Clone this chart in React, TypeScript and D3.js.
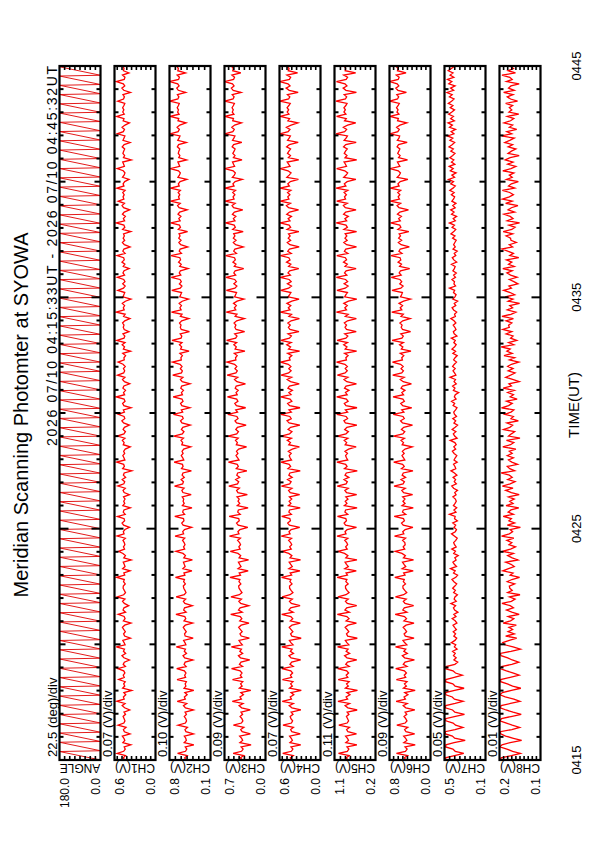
import * as d3 from 'd3'
import { useEffect, useRef } from 'react'

// scan 2026 07/10 04:15:33UT - 04:45:32UT, time in seconds from start
const titleText = 'Meridian Scanning Photomter at SYOWA'
const rangeText = '2026 07/10 04:15:33UT - 2026 07/10 04:45:32UT'
const startSeconds = 4 * 3600 + 15 * 60 + 33
const endSeconds = 1800

const panelNames = ['ANGLE', 'CH1(V)', 'CH2(V)', 'CH3(V)', 'CH4(V)', 'CH5(V)', 'CH6(V)', 'CH7(V)', 'CH8(V)']
const maxValues = [180, 0.6, 0.8, 0.7, 0.6, 1.1, 0.8, 0.5, 0.2]
const minValues = [0, 0, 0.1, 0, 0, 0.2, 0, 0.1, 0.1]
const maxLabels = ['180.0', '0.6', '0.8', '0.7', '0.6', '1.1', '0.8', '0.5', '0.2']
const minLabels = ['0.0', '0.0', '0.1', '0.0', '0.0', '0.2', '0.0', '0.1', '0.1']
const divValues = [22.5, 0.07, 0.1, 0.09, 0.07, 0.11, 0.09, 0.05, 0.01]
const divLabels = ['22.5 (deg)/div', '0.07 (V)/div', '0.10 (V)/div', '0.09 (V)/div', '0.07 (V)/div', '0.11 (V)/div', '0.09 (V)/div', '0.05 (V)/div', '0.01 (V)/div']
const timeLabelTicks = [0, 600, 1200, 1800]

// scanner angle turning points (s from start, deg): slow sweep up, fast return
const angleTimes = [0, 22, 24, 46, 48, 70, 72, 94, 96, 118, 120, 142, 144, 166, 168, 190, 192, 214, 216, 238, 240, 262, 264, 286, 288, 310, 312, 334, 336, 358, 360, 382, 384, 406, 408, 430, 432, 454, 456, 478, 480, 502, 504, 526, 528, 550, 552, 574, 576, 598, 600, 622, 624, 646, 648, 670, 672, 694, 696, 718, 720, 742, 744, 766, 768, 790, 792, 814, 816, 838, 840, 862, 864, 886, 888, 910, 912, 934, 936, 958, 960, 982, 984, 1006, 1008, 1030, 1032, 1054, 1056, 1078, 1080, 1102, 1104, 1126, 1128, 1150, 1152, 1174, 1176, 1198, 1200, 1222, 1224, 1246, 1248, 1270, 1272, 1294, 1296, 1318, 1320, 1342, 1344, 1366, 1368, 1390, 1392, 1414, 1416, 1438, 1440, 1462, 1464, 1486, 1488, 1510, 1512, 1534, 1536, 1558, 1560, 1582, 1584, 1606, 1608, 1630, 1632, 1654, 1656, 1678, 1680, 1702, 1704, 1726, 1728, 1750, 1752, 1774, 1776, 1798]
const angleValues = [0, 180, 0, 180, 0, 180, 0, 180, 0, 180, 0, 180, 0, 180, 0, 180, 0, 180, 0, 180, 0, 180, 0, 180, 0, 180, 0, 180, 0, 180, 0, 180, 0, 180, 0, 180, 0, 180, 0, 180, 0, 180, 0, 180, 0, 180, 0, 180, 0, 180, 0, 180, 0, 180, 0, 180, 0, 180, 0, 180, 0, 180, 0, 180, 0, 180, 0, 180, 0, 180, 0, 180, 0, 180, 0, 180, 0, 180, 0, 180, 0, 180, 0, 180, 0, 180, 0, 180, 0, 180, 0, 180, 0, 180, 0, 180, 0, 180, 0, 180, 0, 180, 0, 180, 0, 180, 0, 180, 0, 180, 0, 180, 0, 180, 0, 180, 0, 180, 0, 180, 0, 180, 0, 180, 0, 180, 0, 180, 0, 180, 0, 180, 0, 180, 0, 180, 0, 180, 0, 180, 0, 180, 0, 180, 0, 180, 0, 180, 0, 180]

// channel readings in mV, evenly spaced over the scan
const ch1 = [
	452, 471, 438, 562, 466, 443, 458, 361, 477, 449, 462, 485, 372, 455, 470, 431, 548, 463, 447, 459,
	474, 439, 461, 377, 452, 488, 446, 568, 458, 470, 435, 463, 349, 481, 450, 466, 443, 539, 457, 472,
	448, 465, 553, 440, 473, 456, 382, 462, 491, 437, 469, 454, 574, 445, 460, 478, 366, 452, 467, 441,
	463, 484, 451, 358, 470, 445, 459, 546, 438, 475, 461, 392, 456, 482, 447, 563, 466, 439, 457, 474,
	471, 443, 468, 457, 571, 450, 463, 371, 481, 446, 458, 472, 355, 464, 440, 476, 542, 453, 469, 448,
	457, 476, 441, 564, 460, 471, 447, 380, 466, 489, 452, 459, 557, 443, 472, 461, 368, 478, 450, 465,
	446, 468, 381, 459, 475, 442, 552, 463, 450, 487, 437, 470, 458, 346, 481, 455, 466, 569, 448, 462,
	478, 451, 466, 443, 370, 472, 459, 485, 447, 561, 462, 440, 474, 455, 383, 467, 492, 449, 460, 545,
	455, 470, 357, 463, 481, 446, 460, 573, 452, 468, 439, 477, 462, 376, 454, 483, 448, 556, 466, 451,
	469, 443, 475, 548, 457, 462, 438, 479, 365, 470, 453, 488, 446, 567, 461, 449, 476, 388, 458, 472,
	461, 482, 450, 374, 467, 444, 573, 458, 471, 452, 486, 441, 359, 476, 463, 450, 551, 469, 444, 480,
	447, 465, 559, 453, 476, 460, 385, 472, 448, 491, 457, 466, 564, 445, 478, 462, 372, 456, 484, 451,
	473, 456, 468, 362, 481, 449, 463, 577, 452, 470, 441, 484, 458, 378, 467, 490, 454, 546, 463, 475,
	458, 479, 445, 566, 462, 474, 451, 387, 483, 460, 447, 472, 561, 455, 466, 480, 354, 469, 452, 477,
	466, 451, 487, 459, 371, 476, 462, 448, 558, 471, 454, 489, 446, 381, 473, 461, 568, 457, 479, 463,
	481, 462, 449, 553, 468, 455, 476, 366, 464, 492, 450, 471, 575, 458, 447, 483, 389, 470, 461, 474,
]
const ch2 = [
	517, 541, 498, 662, 526, 505, 531, 384, 549, 512, 523, 547, 391, 519, 536, 493, 655, 528, 509, 521,
	548, 511, 534, 392, 527, 561, 506, 668, 530, 546, 499, 538, 385, 552, 520, 533, 512, 671, 525, 541,
	519, 546, 677, 515, 551, 532, 400, 541, 569, 510, 547, 528, 684, 520, 537, 559, 396, 532, 543, 514,
	540, 565, 531, 404, 552, 522, 539, 690, 515, 558, 543, 411, 537, 563, 524, 686, 549, 518, 536, 556,
	564, 529, 559, 545, 698, 537, 553, 417, 571, 533, 548, 562, 409, 556, 528, 569, 693, 541, 560, 535,
	551, 577, 540, 705, 559, 574, 544, 423, 567, 591, 553, 561, 710, 542, 575, 564, 416, 580, 549, 568,
	557, 582, 430, 571, 589, 551, 714, 576, 562, 601, 548, 585, 570, 426, 595, 568, 579, 721, 556, 574,
	599, 568, 586, 557, 439, 590, 575, 604, 561, 727, 581, 553, 597, 572, 445, 588, 612, 566, 579, 733,
	575, 598, 452, 590, 611, 569, 587, 738, 579, 596, 562, 607, 593, 449, 583, 614, 571, 745, 596, 580,
	615, 586, 620, 749, 598, 605, 580, 623, 466, 611, 592, 630, 587, 757, 603, 590, 618, 460, 599, 616,
	603, 629, 592, 471, 614, 586, 766, 601, 622, 596, 635, 583, 475, 624, 609, 593, 761, 617, 588, 631,
	598, 621, 770, 607, 633, 614, 482, 626, 600, 645, 611, 623, 774, 596, 634, 618, 489, 609, 640, 603,
	642, 620, 637, 491, 650, 613, 630, 779, 618, 641, 605, 655, 626, 498, 636, 662, 617, 782, 631, 646,
	625, 652, 614, 785, 634, 649, 619, 503, 656, 631, 615, 646, 788, 625, 640, 657, 508, 642, 623, 650,
	640, 625, 666, 644, 512, 659, 638, 621, 790, 653, 632, 670, 624, 518, 655, 642, 793, 636, 661, 647,
	668, 647, 633, 795, 657, 640, 665, 524, 650, 676, 636, 660, 796, 645, 631, 669, 527, 658, 649, 671,
]
const ch3 = [
	395, 428, 371, 552, 409, 382, 416, 246, 437, 390, 407, 441, 258, 398, 423, 369, 548, 411, 386, 403,
	434, 391, 418, 260, 407, 451, 383, 567, 412, 436, 377, 421, 251, 447, 399, 425, 388, 563, 404, 430,
	401, 433, 580, 392, 445, 418, 269, 427, 462, 390, 438, 411, 583, 396, 429, 452, 275, 414, 436, 398,
	427, 458, 415, 282, 440, 404, 431, 594, 397, 461, 433, 287, 424, 455, 410, 590, 446, 401, 428, 452,
	459, 421, 453, 437, 606, 427, 449, 296, 469, 418, 441, 462, 289, 451, 424, 470, 601, 433, 455, 426,
	443, 476, 429, 615, 452, 471, 437, 302, 466, 494, 448, 457, 620, 431, 474, 463, 297, 482, 440, 469,
	449, 486, 310, 471, 493, 446, 626, 478, 458, 509, 441, 490, 475, 318, 499, 464, 483, 633, 452, 476,
	503, 471, 495, 458, 323, 498, 480, 512, 466, 640, 491, 462, 507, 479, 331, 494, 521, 469, 488, 644,
	477, 508, 339, 497, 524, 471, 492, 650, 483, 503, 466, 517, 500, 342, 488, 529, 474, 655, 505, 481,
	521, 490, 528, 659, 505, 512, 484, 533, 351, 519, 498, 541, 493, 664, 510, 487, 526, 356, 502, 523,
	505, 537, 493, 361, 518, 487, 670, 507, 531, 498, 546, 485, 367, 528, 511, 494, 668, 523, 489, 540,
	497, 526, 675, 509, 541, 518, 372, 533, 504, 556, 515, 529, 679, 496, 543, 522, 380, 510, 549, 503,
	549, 522, 543, 381, 560, 515, 535, 683, 521, 548, 506, 565, 531, 388, 545, 571, 518, 689, 537, 554,
	523, 559, 512, 692, 537, 556, 519, 396, 566, 532, 515, 552, 695, 527, 546, 563, 401, 548, 521, 558,
	536, 519, 569, 545, 404, 563, 540, 522, 696, 558, 533, 575, 526, 410, 560, 547, 698, 539, 567, 550,
	571, 548, 531, 697, 554, 536, 568, 416, 551, 583, 537, 564, 699, 545, 529, 574, 421, 559, 550, 577,
]
const ch4 = [
	415, 441, 398, 553, 426, 404, 432, 289, 447, 411, 428, 452, 296, 419, 437, 396, 549, 425, 408, 433,
	444, 402, 429, 287, 418, 458, 397, 560, 425, 443, 391, 431, 281, 454, 412, 437, 403, 557, 421, 440,
	408, 435, 563, 399, 447, 422, 290, 431, 461, 395, 441, 416, 566, 402, 433, 455, 283, 419, 438, 404,
	430, 457, 418, 295, 441, 406, 434, 568, 400, 462, 436, 299, 427, 454, 412, 561, 446, 403, 431, 452,
	453, 417, 448, 433, 570, 422, 444, 301, 463, 413, 436, 458, 292, 447, 419, 465, 562, 428, 451, 421,
	437, 466, 424, 574, 445, 461, 430, 304, 455, 480, 440, 449, 568, 426, 463, 452, 297, 470, 433, 459,
	421, 455, 305, 443, 467, 418, 572, 451, 430, 482, 414, 463, 448, 296, 476, 437, 459, 579, 424, 446,
	458, 429, 471, 413, 309, 465, 440, 486, 425, 575, 453, 418, 474, 437, 302, 460, 490, 428, 449, 581,
	427, 461, 300, 452, 481, 419, 446, 583, 432, 463, 411, 477, 455, 311, 438, 487, 423, 577, 466, 430,
	464, 433, 472, 586, 445, 457, 420, 480, 306, 468, 438, 493, 429, 580, 455, 426, 476, 315, 447, 470,
	443, 478, 430, 309, 462, 424, 588, 447, 471, 435, 491, 419, 314, 474, 452, 433, 583, 466, 425, 484,
	429, 459, 590, 441, 476, 451, 318, 467, 434, 497, 446, 463, 585, 428, 479, 455, 312, 448, 486, 437,
	472, 444, 468, 316, 489, 437, 459, 592, 446, 473, 425, 494, 453, 321, 467, 498, 440, 587, 462, 479,
	448, 482, 433, 594, 455, 478, 441, 323, 493, 459, 431, 475, 590, 446, 467, 488, 318, 470, 440, 483,
	462, 438, 496, 456, 326, 482, 459, 441, 594, 474, 447, 499, 430, 331, 477, 452, 591, 461, 487, 466,
	489, 463, 443, 595, 467, 449, 484, 327, 458, 503, 446, 476, 596, 455, 437, 492, 335, 472, 460, 485,
]
const ch5 = [
	803, 842, 776, 1012, 819, 785, 827, 608, 851, 792, 816, 856, 617, 805, 834, 771, 1005, 823, 791, 812,
	838, 783, 822, 603, 806, 867, 770, 1024, 812, 846, 761, 829, 596, 861, 797, 835, 779, 1018, 808, 843,
	791, 832, 1030, 777, 853, 815, 611, 826, 878, 768, 844, 802, 1033, 784, 829, 862, 600, 811, 837, 786,
	823, 866, 805, 619, 845, 781, 828, 1038, 773, 871, 832, 612, 819, 859, 798, 1026, 848, 780, 825, 857,
	859, 800, 851, 828, 1041, 815, 846, 622, 874, 796, 837, 868, 607, 852, 806, 879, 1029, 821, 855, 812,
	832, 875, 808, 1044, 847, 869, 823, 617, 857, 889, 838, 851, 1035, 810, 872, 856, 604, 884, 827, 864,
	804, 851, 613, 836, 872, 798, 1040, 846, 818, 891, 785, 869, 841, 600, 882, 824, 855, 1047, 809, 838,
	857, 816, 870, 791, 625, 866, 833, 887, 806, 1046, 849, 795, 876, 828, 609, 861, 893, 812, 845, 1050,
	812, 861, 606, 848, 884, 801, 839, 1052, 821, 859, 782, 880, 847, 618, 829, 891, 805, 1037, 867, 819,
	864, 818, 872, 1055, 838, 851, 803, 879, 614, 866, 826, 898, 815, 1043, 850, 808, 876, 623, 836, 869,
	836, 884, 814, 620, 862, 799, 1058, 837, 873, 820, 896, 794, 611, 876, 849, 815, 1046, 866, 801, 888,
	811, 857, 1060, 829, 880, 845, 626, 868, 819, 902, 835, 861, 1049, 806, 883, 852, 617, 834, 895, 822,
	870, 829, 865, 615, 894, 817, 848, 1062, 833, 871, 797, 900, 854, 627, 862, 905, 819, 1051, 858, 881,
	839, 889, 807, 1064, 850, 884, 823, 630, 897, 845, 811, 874, 1053, 836, 859, 890, 612, 869, 826, 886,
	858, 820, 901, 853, 624, 888, 846, 816, 1066, 877, 834, 906, 812, 633, 880, 842, 1055, 850, 893, 862,
	893, 851, 825, 1068, 861, 833, 887, 619, 849, 910, 827, 870, 1057, 844, 813, 898, 635, 866, 855, 879,
]
const ch6 = [
	474, 512, 447, 664, 489, 456, 497, 298, 521, 461, 485, 523, 309, 477, 505, 443, 657, 494, 459, 483,
	517, 463, 495, 306, 481, 533, 454, 671, 490, 516, 441, 503, 299, 528, 470, 508, 458, 666, 484, 512,
	470, 509, 679, 458, 531, 497, 314, 505, 549, 452, 520, 483, 683, 462, 506, 537, 321, 491, 515, 466,
	493, 533, 478, 322, 518, 468, 507, 689, 459, 540, 511, 329, 497, 530, 474, 684, 524, 463, 502, 536,
	539, 488, 530, 512, 697, 496, 524, 337, 553, 483, 516, 546, 331, 528, 490, 557, 691, 503, 533, 494,
	501, 544, 487, 702, 520, 541, 494, 343, 532, 565, 509, 527, 708, 484, 547, 530, 336, 556, 497, 538,
	498, 543, 349, 525, 560, 492, 711, 535, 509, 575, 486, 553, 531, 342, 566, 512, 545, 718, 501, 527,
	556, 514, 549, 497, 357, 553, 527, 575, 508, 722, 540, 502, 567, 522, 351, 546, 584, 511, 537, 727,
	519, 561, 367, 543, 580, 510, 539, 731, 526, 559, 498, 575, 547, 372, 532, 590, 514, 738, 562, 528,
	575, 533, 584, 742, 548, 561, 522, 590, 381, 569, 540, 603, 529, 749, 558, 531, 580, 388, 545, 572,
	554, 597, 541, 397, 575, 530, 756, 560, 591, 546, 614, 525, 389, 586, 564, 548, 751, 579, 535, 600,
	561, 596, 766, 572, 611, 585, 406, 603, 566, 633, 579, 594, 771, 557, 616, 590, 413, 574, 627, 563,
	622, 585, 612, 423, 637, 578, 601, 778, 589, 621, 568, 645, 598, 430, 615, 652, 583, 781, 606, 631,
	598, 639, 581, 785, 612, 635, 591, 441, 650, 609, 586, 628, 789, 597, 622, 646, 448, 624, 593, 640,
	619, 598, 652, 624, 455, 647, 616, 602, 792, 638, 609, 661, 596, 462, 643, 627, 794, 615, 654, 633,
	663, 630, 609, 796, 644, 621, 657, 470, 636, 676, 618, 650, 797, 631, 612, 668, 477, 645, 633, 671,
]
const ch7 = [
	488, 491, 402, 312, 395, 418, 489, 486, 407, 298, 401, 423, 490, 493, 398, 321, 392, 416, 487, 490,
	404, 305, 399, 421, 492, 488, 396, 318, 403, 425, 486, 491, 401, 309, 397, 419, 489, 487, 405, 326,
	393, 417, 490, 485, 399, 371, 408, 386, 412, 395, 421, 377, 404, 390, 433, 398, 381, 409, 392, 415,
	384, 402, 417, 379, 396, 425, 388, 409, 369, 401, 413, 392, 437, 385, 406, 398, 374, 411, 394, 420,
	399, 381, 408, 427, 390, 372, 412, 396, 441, 383, 404, 418, 387, 399, 366, 410, 393, 429, 386, 402,
	411, 390, 376, 404, 432, 395, 383, 407, 391, 419, 374, 402, 396, 452, 388, 408, 381, 413, 397, 385,
	394, 418, 387, 400, 373, 411, 429, 384, 405, 392, 416, 379, 403, 437, 390, 398, 412, 376, 407, 395,
	380, 406, 423, 391, 409, 386, 399, 444, 377, 401, 414, 389, 425, 396, 372, 408, 391, 419, 383, 403,
	410, 392, 378, 416, 401, 431, 387, 404, 395, 362, 413, 398, 421, 385, 407, 393, 446, 389, 402, 417,
	396, 421, 404, 383, 411, 397, 376, 418, 392, 427, 401, 386, 409, 395, 433, 379, 405, 414, 388, 399,
	415, 389, 407, 438, 394, 402, 381, 411, 426, 390, 405, 372, 419, 398, 387, 412, 401, 451, 392, 408,
	402, 427, 393, 411, 385, 418, 404, 396, 432, 381, 409, 424, 390, 405, 376, 417, 395, 411, 399, 386,
	421, 398, 437, 409, 390, 426, 403, 452, 394, 415, 382, 431, 407, 440, 396, 419, 388, 428, 411, 401,
	433, 406, 448, 417, 395, 439, 412, 461, 402, 428, 387, 443, 415, 454, 399, 432, 409, 447, 420, 398,
	438, 414, 456, 426, 401, 447, 419, 470, 408, 435, 392, 451, 423, 466, 404, 440, 413, 459, 428, 402,
	444, 418, 463, 431, 407, 452, 425, 476, 411, 441, 397, 458, 429, 471, 409, 446, 417, 464, 433, 405,
]
const ch8 = [
	198, 196, 171, 149, 168, 182, 199, 194, 174, 146, 166, 185, 197, 198, 170, 151, 169, 183, 199, 195,
	172, 147, 167, 184, 198, 196, 173, 150, 165, 186, 199, 193, 171, 148, 168, 181, 197, 197, 174, 152,
	166, 183, 198, 195, 170, 153, 169, 180, 196, 198, 172, 149, 167, 187, 192, 176, 158, 185, 164, 179,
	168, 177, 159, 191, 173, 165, 179, 152, 170, 183, 166, 174, 194, 171, 162, 176, 150, 180, 169, 175,
	176, 163, 181, 170, 151, 174, 167, 192, 178, 164, 172, 185, 155, 169, 180, 166, 193, 173, 161, 177,
	170, 182, 165, 195, 176, 168, 174, 149, 181, 163, 177, 171, 191, 166, 179, 172, 153, 184, 167, 175,
	164, 178, 152, 171, 185, 167, 193, 174, 162, 180, 169, 176, 196, 163, 175, 181, 156, 170, 178, 166,
	181, 169, 176, 160, 192, 173, 165, 183, 150, 178, 171, 163, 190, 175, 168, 182, 154, 172, 166, 187,
	172, 165, 195, 178, 169, 183, 157, 174, 166, 180, 164, 191, 171, 177, 152, 168, 185, 173, 162, 179,
	167, 180, 171, 153, 176, 163, 189, 169, 182, 174, 196, 165, 178, 158, 173, 167, 184, 170, 192, 176,
	178, 170, 184, 166, 194, 172, 160, 181, 168, 175, 151, 179, 167, 186, 163, 174, 190, 171, 177, 155,
	165, 176, 157, 173, 182, 169, 192, 164, 178, 170, 183, 153, 175, 166, 180, 194, 168, 176, 159, 172,
	173, 184, 168, 191, 170, 162, 177, 151, 181, 167, 174, 189, 163, 179, 171, 155, 185, 169, 193, 176,
	166, 175, 193, 163, 178, 171, 154, 183, 169, 176, 165, 192, 172, 160, 180, 167, 186, 174, 152, 179,
	171, 160, 179, 168, 187, 175, 164, 195, 170, 182, 158, 176, 168, 189, 173, 165, 181, 153, 177, 170,
	176, 168, 185, 156, 173, 181, 167, 190, 164, 178, 172, 152, 183, 169, 175, 194, 161, 179, 166, 173,
]
const channels = [ch1, ch2, ch3, ch4, ch5, ch6, ch7, ch8]

const fontFamily = '"Liberation Sans", Arial, sans-serif'

function hhmm(t: number) {
	const s = startSeconds + t
	const h = Math.floor(s / 3600)
	const m = Math.floor((s % 3600) / 60)
	return String(h).padStart(2, '0') + String(m).padStart(2, '0')
}

export default function App() {
	const svgRef = useRef<SVGSVGElement>(null)

	useEffect(() => {
		const svg = d3.select(svgRef.current)
		svg.selectAll('*').remove()

		const top = 66
		const bottom = 760
		const panelWidth = 41
		const panelLeft = (i: number) => 59.5 + i * 55

		const y = d3.scaleLinear().domain([0, endSeconds]).range([bottom, top])

		const rotText = (g: any, x: number, yy: number, txt: string, size: number, anchor: string) =>
			g
				.append('text')
				.attr('transform', `translate(${x},${yy}) rotate(-90)`)
				.attr('text-anchor', anchor)
				.attr('font-family', fontFamily)
				.attr('font-size', size)
				.attr('fill', '#000')
				.text(txt)

		// ----- title and header
		rotText(svg, 28, 415, titleText, 20, 'middle')
		rotText(svg, 57, top, rangeText, 14, 'end').attr('textLength', 380).attr('lengthAdjust', 'spacing')

		const defs = svg.append('defs')

		panelNames.forEach((name, i) => {
			const left = panelLeft(i)
			const right = left + panelWidth
			const x = d3.scaleLinear().domain([maxValues[i], minValues[i]]).range([left, right])
			const g = svg.append('g')

			defs
				.append('clipPath')
				.attr('id', 'clip' + i)
				.append('rect')
				.attr('x', left)
				.attr('y', top)
				.attr('width', panelWidth)
				.attr('height', bottom - top)

			// ----- data
			let pts: [number, number][]
			if (i === 0) {
				pts = angleTimes.map((t, k) => [t, angleValues[k]])
			} else {
				const vals = channels[i - 1]
				const step = (endSeconds - 1) / (vals.length - 1)
				pts = vals.map((v, k) => [k * step, v / 1000])
			}
			const line = d3
				.line<[number, number]>()
				.x((d) => x(d[1]))
				.y((d) => y(d[0]))
			g.append('path')
				.datum(pts)
				.attr('clip-path', `url(#clip${i})`)
				.attr('fill', 'none')
				.attr('stroke', i === 0 ? '#e00000' : '#ff0000')
				.attr('stroke-width', i === 0 ? 0.9 : 1.3)
				.attr('stroke-linejoin', 'miter')
				.attr('d', line)

			// ----- time ticks on both edges
			d3.range(60, endSeconds, 60).forEach((t) => {
				const len = t % 600 === 0 ? 9 : t % 300 === 0 ? 6 : 4
				const yy = y(t)
				g.append('line').attr('x1', left).attr('x2', left + len).attr('y1', yy).attr('y2', yy).attr('stroke', '#000').attr('stroke-width', 2)
				g.append('line').attr('x1', right - len).attr('x2', right).attr('y1', yy).attr('y2', yy).attr('stroke', '#000').attr('stroke-width', 2)
			})

			// ----- value ticks on top and bottom edges
			const div = divValues[i]
			for (let v = minValues[i] + div; v < maxValues[i] - div * 0.2; v += div) {
				const xx = x(v)
				g.append('line').attr('x1', xx).attr('x2', xx).attr('y1', top).attr('y2', top + 4).attr('stroke', '#000').attr('stroke-width', 1.6)
				g.append('line').attr('x1', xx).attr('x2', xx).attr('y1', bottom - 4).attr('y2', bottom).attr('stroke', '#000').attr('stroke-width', 1.6)
			}

			// ----- frame
			g.append('rect')
				.attr('x', left)
				.attr('y', top)
				.attr('width', panelWidth)
				.attr('height', bottom - top)
				.attr('fill', 'none')
				.attr('stroke', '#000')
				.attr('stroke-width', 2.2)

			// ----- labels
			rotText(g, left - 2.5, 757, divLabels[i], 13, 'start')
			rotText(g, left + 9, 778, maxLabels[i], 12, 'end')
			rotText(g, right - 0.5, 778, minLabels[i], 12, 'end')
			g.append('text')
				.attr('transform', `translate(${left + panelWidth / 2},764) rotate(180)`)
				.attr('text-anchor', 'middle')
				.attr('font-family', fontFamily)
				.attr('font-size', 12)
				.text(name)
		})

		// ----- time axis labels
		timeLabelTicks.forEach((t) => rotText(svg, 581, y(t), hhmm(t), 13, 'middle'))
		rotText(svg, 579, 405, 'TIME(UT)', 15, 'middle')
	}, [])

	return (
		<svg
			ref={svgRef}
			width={595}
			height={842}
			style={{ position: 'absolute', left: 0, top: 0, background: '#fff' }}
		/>
	)
}
